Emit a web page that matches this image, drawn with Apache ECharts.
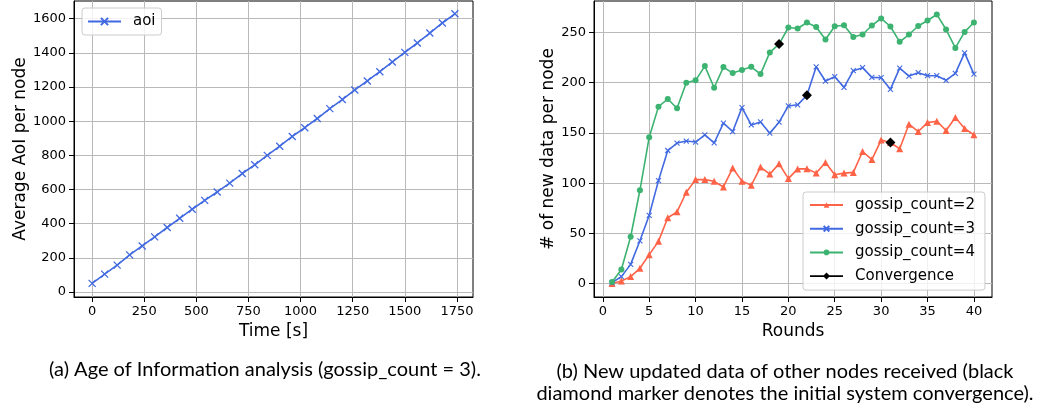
<!DOCTYPE html>
<html>
<head>
<meta charset="utf-8">
<script src="https://cdn.jsdelivr.net/npm/echarts@6/dist/echarts.min.js"></script>
<style>
html,body{margin:0;padding:0;background:#fff;}
#c{width:1042px;height:411px;}
</style>
</head>
<body>
<div id="c"></div>
<script>
// ---- Left chart (a): Age of Information ----
var aoiTime = [0,60,120,180,240,300,360,420,480,540,600,660,720,780,840,900,960,1020,1080,1140,1200,1260,1320,1380,1440,1500,1560,1620,1680,1740];
var aoiValues = [51,105,158,218,270,323,378,432,485,537,586,638,694,745,800,854,911,962,1016,1074,1127,1183,1236,1290,1347,1403,1458,1516,1575,1629];
var aoiXTicks = [0,250,500,750,1000,1250,1500,1750];
var aoiYTicks = [0,200,400,600,800,1000,1200,1400,1600];

// ---- Right chart (b): New data per node ----
var rounds = [1,2,3,4,5,6,7,8,9,10,11,12,13,14,15,16,17,18,19,20,21,22,23,24,25,26,27,28,29,30,31,32,33,34,35,36,37,38,39,40];
var gossip2 = [0,2.6,6.9,15.2,28.8,42,65.5,71.4,90.9,103.5,103.5,101.8,96.2,115,102,97.8,116,109,119.3,104.5,114.2,114.4,110,120.6,108.4,110,110.7,131.5,123.5,142.9,140.5,134.2,158.7,151.4,160.3,161.7,152.4,165.3,154.4,148.1];
var gossip3 = [1,6.9,19.1,42.6,68,102.5,132.5,139.9,141.9,140.9,148,140,159.7,151.4,175.2,158,161,149.8,160.7,176.9,178,187.5,215.9,201.7,206,195.4,212,215,205.3,205,193.4,214.6,206.6,210,207,207,202.4,209.3,229.8,208.6];
var gossip4 = [1.6,13.9,46.6,92.9,145.8,176.2,183.8,174.6,200,202.4,216.6,195,215.6,209.6,212.6,215.9,208.6,230.2,238.5,255,254,260,255.6,243,256.2,257.2,245.6,248,257,264,256,240.7,248,256.5,262,268,253,234.7,250.6,260];
var convRounds = [19,22,31];
var convValues = [238.5,187.5,140.5];
var roundXTicks = [0,5,10,15,20,25,30,35,40];
var roundYTicks = [0,50,100,150,200,250];

var captionA = '(a) Age of Information analysis (gossip_count = 3).';
var captionB1 = '(b) New updated data of other nodes received (black';
var captionB2 = 'diamond marker denotes the initial system convergence).';

function pairs(xs, ys){ return xs.map(function(x,i){ return [x, ys[i]]; }); }

var FONT = 'DejaVu Sans';
var CAPFONT = '20px Lato';
var RED = '#ff6347', BLUE = '#4169e1', GREEN = '#3cb371';
var XSYM = 'path://M0,0L10,10M10,0L0,10';
var CONV_ICON = 'path://M0,2.7H33V4.3H0Z M16.5,0L20,3.5L16.5,7L13,3.5Z';

function axisCommon(ticks, extra){
  var o = {
    type: 'value',
    axisLine: {show: true, onZero: false, lineStyle: {color: '#000', width: 1}},
    axisTick: {show: true, length: 5, inside: false, customValues: ticks, lineStyle: {color: '#000', width: 1}},
    axisLabel: {show: true, customValues: ticks, color: '#000', fontSize: 13, fontFamily: FONT, margin: 8,
                formatter: function(v){ return String(v); }},
    splitLine: {show: true, lineStyle: {color: '#b9b9b9', width: 1}},
    nameTextStyle: {color: '#000', fontSize: 17, fontFamily: FONT},
    nameLocation: 'middle'
  };
  for (var k in extra) o[k] = extra[k];
  return o;
}

var chart = echarts.init(document.getElementById('c'), null, {renderer: 'canvas'});
var option = {
  animation: false,
  backgroundColor: '#fff',
  grid: [
    {left: 74, top: 1, width: 399, height: 296, show: true, borderColor: '#000', borderWidth: 1, backgroundColor: 'transparent'},
    {left: 594, top: 1, width: 398, height: 296, show: true, borderColor: '#000', borderWidth: 1, backgroundColor: 'transparent'}
  ],
  xAxis: [
    axisCommon(aoiXTicks, {gridIndex: 0, min: -87, max: 1827, name: 'Time [s]', nameGap: 26}),
    axisCommon(roundXTicks, {gridIndex: 1, min: -0.95, max: 41.95, name: 'Rounds', nameGap: 26})
  ],
  yAxis: [
    axisCommon(aoiYTicks, {gridIndex: 0, min: -28.75, max: 1703.75, name: 'Average AoI per node', nameGap: 41}),
    axisCommon(roundYTicks, {gridIndex: 1, min: -13.4, max: 281.4, name: '# of new data per node', nameGap: 37})
  ],
  legend: [
    {
      left: 82, top: 8, orient: 'vertical',
      data: ['aoi'],
      itemWidth: 33, itemHeight: 9,
      padding: [6, 6, 6, 5],
      borderColor: '#cccccc', borderWidth: 1, borderRadius: 3,
      backgroundColor: 'rgba(255,255,255,0.8)',
      textStyle: {fontSize: 15, fontFamily: FONT, color: '#000', padding: [0,0,0,7]}
    },
    {
      left: 803, top: 192, orient: 'vertical',
      data: ['gossip_count=2', 'gossip_count=3', 'gossip_count=4',
             {name: 'Convergence', icon: CONV_ICON, itemStyle: {color: '#000'}}],
      itemWidth: 33, itemHeight: 7, itemGap: 7.7,
      padding: [5, 10, 6, 6],
      borderColor: '#cccccc', borderWidth: 1, borderRadius: 3,
      backgroundColor: 'rgba(255,255,255,0.8)',
      textStyle: {fontSize: 15, fontFamily: FONT, color: '#000', lineHeight: 16, padding: [0,0,0,7]}
    }
  ],
  series: [
    {
      name: 'aoi', type: 'line', xAxisIndex: 0, yAxisIndex: 0,
      data: pairs(aoiTime, aoiValues),
      symbol: XSYM, symbolSize: 7, showAllSymbol: true,
      lineStyle: {color: BLUE, width: 1.6},
      itemStyle: {color: BLUE, borderColor: BLUE, borderWidth: 1.3},
      emphasis: {disabled: true}
    },
    {
      name: 'gossip_count=2', type: 'line', xAxisIndex: 1, yAxisIndex: 1,
      data: pairs(rounds, gossip2),
      symbol: 'triangle', symbolSize: 7, showAllSymbol: true,
      lineStyle: {color: RED, width: 1.6},
      itemStyle: {color: RED, borderWidth: 0},
      emphasis: {disabled: true}, z: 2
    },
    {
      name: 'gossip_count=3', type: 'line', xAxisIndex: 1, yAxisIndex: 1,
      data: pairs(rounds, gossip3),
      symbol: XSYM, symbolSize: 5, showAllSymbol: true,
      lineStyle: {color: BLUE, width: 1.6},
      itemStyle: {color: BLUE, borderColor: BLUE, borderWidth: 1.1},
      emphasis: {disabled: true}, z: 3
    },
    {
      name: 'gossip_count=4', type: 'line', xAxisIndex: 1, yAxisIndex: 1,
      data: pairs(rounds, gossip4),
      symbol: 'circle', symbolSize: 6, showAllSymbol: true,
      lineStyle: {color: GREEN, width: 1.6},
      itemStyle: {color: GREEN, borderWidth: 0},
      emphasis: {disabled: true}, z: 4
    },
    {
      name: 'Convergence', type: 'line', xAxisIndex: 1, yAxisIndex: 1,
      data: pairs(convRounds, convValues),
      symbol: 'diamond', symbolSize: 10, showAllSymbol: true,
      lineStyle: {color: '#000', width: 1.6, opacity: 0},
      itemStyle: {color: '#000', borderWidth: 0},
      emphasis: {disabled: true}, z: 5
    }
  ],
  graphic: [
    {type: 'text', x: 265, y: 370, style: {text: captionA, fill: '#000', font: CAPFONT, align: 'center', verticalAlign: 'middle'}},
    {type: 'text', x: 785, y: 371.7, style: {text: captionB1, fill: '#000', font: CAPFONT, align: 'center', verticalAlign: 'middle'}},
    {type: 'text', x: 785, y: 393.3, style: {text: captionB2, fill: '#000', font: CAPFONT, align: 'center', verticalAlign: 'middle'}}
  ]
};
chart.setOption(option);
</script>
</body>
</html>
